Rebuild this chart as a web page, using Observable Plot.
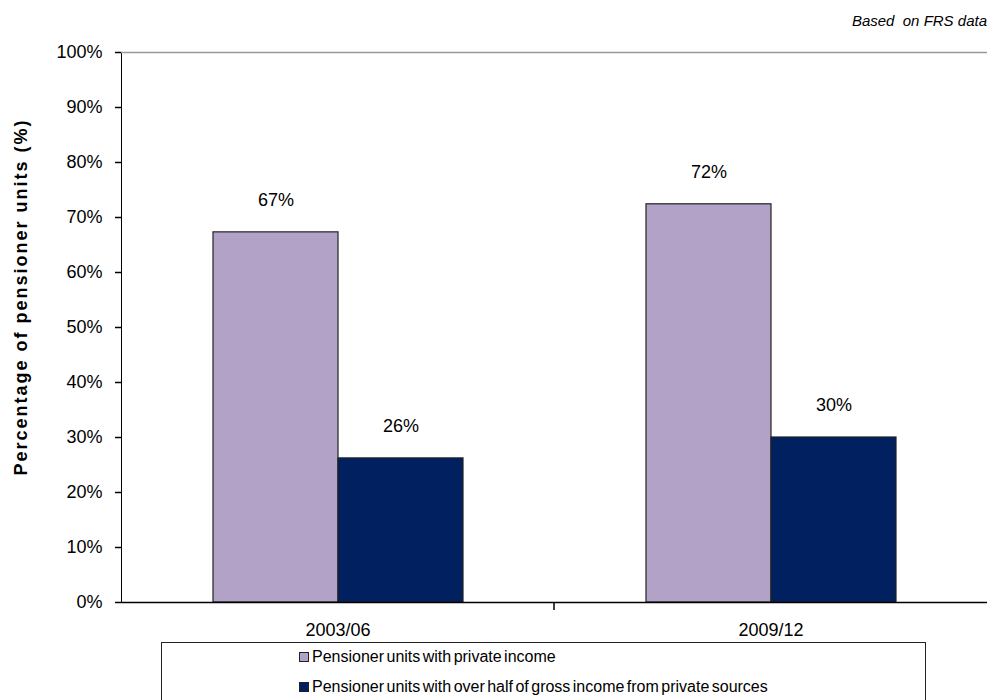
<!DOCTYPE html>
<html>
<head>
<meta charset="utf-8">
<script src="https://cdn.jsdelivr.net/npm/d3@7"></script>
<script src="https://cdn.jsdelivr.net/npm/@observablehq/plot@0.6"></script>
<style>
  html, body { margin: 0; padding: 0; background: #fff; }
  body { width: 987px; height: 700px; overflow: hidden; position: relative; font-family: "Liberation Sans", Arial, sans-serif; }
  #note { position: absolute; right: 0px; top: 12px; font-size: 15px; font-style: italic; color: #000; white-space: pre; }
  #ytitle { position: absolute; left: 21px; top: 297px; transform: translate(-50%, -50%) rotate(-90deg); font-size: 18px; font-weight: bold; letter-spacing: 2px; white-space: nowrap; color: #000; }
  #chart svg { display: block; }
  #legend { position: absolute; left: 161px; top: 642px; width: 765px; height: 70px; border: 1.5px solid #222; box-sizing: border-box; font-size: 16px; word-spacing: -2px; }
  .item { position: absolute; left: 137px; display: flex; align-items: center; white-space: nowrap; }
  .sw { width: 8px; height: 8px; border: 1.5px solid #222; margin-right: 3px; }
</style>
</head>
<body>
<div id="note">Based  on FRS data</div>
<div id="chart"></div>
<div id="ytitle"></div>
<div id="legend"></div>
<script>
const categories = ["2003/06", "2009/12"];
const seriesNames = [
  "Pensioner units with private income",
  "Pensioner units with over half of gross income from private sources"
];
const privateIncome = [67.3, 72.4];
const overHalfPrivate = [26.2, 30.0];
const colors = ["#B3A2C7", "#002060"];
const yTicks = [0, 10, 20, 30, 40, 50, 60, 70, 80, 90, 100];
const yTitle = "Percentage of pensioner units (%)";

const data = [];
categories.forEach((c, i) => {
  data.push({category: c, series: seriesNames[0], value: privateIncome[i]});
  data.push({category: c, series: seriesNames[1], value: overHalfPrivate[i]});
});

const chart = Plot.plot({
  width: 987,
  height: 640,
  marginTop: 52,
  marginBottom: 38,
  marginLeft: 121,
  marginRight: 0,
  style: {fontFamily: "'Liberation Sans', Arial, sans-serif", fontSize: "18px", color: "#000", background: "#fff"},
  fx: {domain: categories, padding: 0, axis: "bottom", tickSize: 0, tickPadding: 21, label: null},
  x: {domain: seriesNames, paddingInner: 0, paddingOuter: 0.732, axis: null},
  y: {domain: [0, 100], ticks: yTicks, tickFormat: d => d + "%", tickSize: 6, tickPadding: 13, line: true, label: null},
  color: {domain: seriesNames, range: colors},
  marks: [
    Plot.ruleY([100], {stroke: "#999", strokeWidth: 1.5}),
    Plot.barY(data, {fx: "category", x: "series", y: "value", fill: "series", stroke: "#222", strokeWidth: 1.2, inset: 0}),
    Plot.text(data, {fx: "category", x: "series", y: "value", text: d => Math.round(d.value) + "%", dy: -32, fontSize: 18, fill: "#000"}),
    Plot.ruleY([0], {stroke: "#000", strokeWidth: 1.5})
  ]
});

d3.select(chart).selectAll('[aria-label="y-axis tick"], [aria-label="y-axis line"]').attr("stroke", "#000").attr("stroke-width", 1.5);

// category boundary tick using the fx scale
const fx = chart.scale("fx");
const ys = chart.scale("y");
const bx = fx.apply(categories[1]);
const by = ys.apply(0);
d3.select(chart).append("line")
  .attr("x1", bx).attr("x2", bx).attr("y1", by).attr("y2", by + 8)
  .attr("stroke", "#000").attr("stroke-width", 1.5);

document.getElementById("chart").appendChild(chart);
document.getElementById("ytitle").textContent = yTitle;

const legend = d3.select("#legend");
seriesNames.forEach((s, i) => {
  const it = legend.append("div").attr("class", "item").style("top", (i === 0 ? 5 : 35) + "px");
  it.append("div").attr("class", "sw").style("background", colors[i]);
  it.append("span").text(s);
});
</script>
</body>
</html>
